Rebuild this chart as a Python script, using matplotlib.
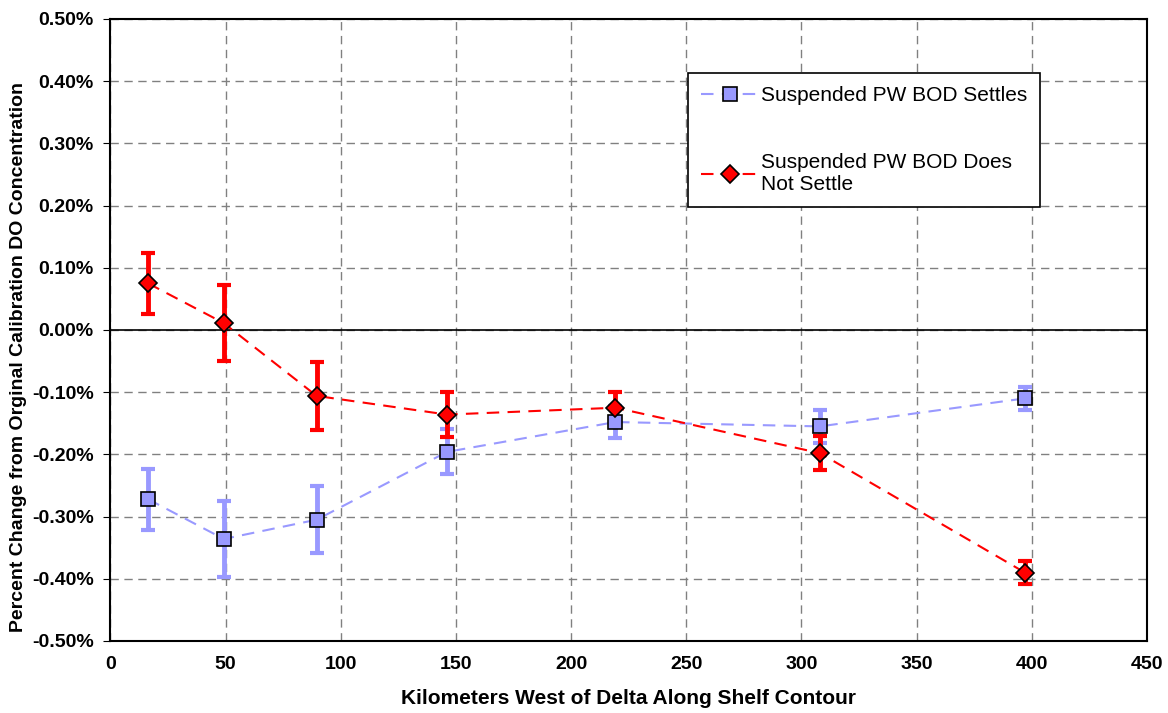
import matplotlib
matplotlib.use("Agg")
import matplotlib.pyplot as plt
from matplotlib.ticker import FuncFormatter, MultipleLocator

plt.rcParams['font.family'] = ['Liberation Sans', 'DejaVu Sans']

# Data (percent change)
km = [16.3, 49.2, 89.5, 146.1, 219.2, 308.0, 397.0]
settles = [-0.272, -0.336, -0.305, -0.196, -0.148, -0.155, -0.110]
settles_err = [0.049, 0.061, 0.054, 0.036, 0.026, 0.027, 0.018]
not_settle = [0.075, 0.011, -0.106, -0.136, -0.125, -0.198, -0.390]
not_settle_err = [0.049, 0.061, 0.055, 0.036, 0.026, 0.027, 0.019]

label_settles = "Suspended PW BOD Settles"
label_not = "Suspended PW BOD Does\nNot Settle"
xlabel = "Kilometers West of Delta Along Shelf Contour"
ylabel = "Percent Change from Orginal Calibration DO Concentration"

blue = "#9999FF"
red = "#FF0000"

fig = plt.figure(figsize=(11.68, 7.13), dpi=100)
ax = fig.add_axes([0.0946, 0.101, 0.8874, 0.8724])

ax.set_xlim(0, 450)
ax.set_ylim(-0.5, 0.5)
ax.xaxis.set_major_locator(MultipleLocator(50))
ax.yaxis.set_major_locator(MultipleLocator(0.1))
ax.yaxis.set_major_formatter(FuncFormatter(lambda v, p: f"{v:.2f}%"))

ax.grid(True, color="#808080", linestyle=(0, (6, 4)), linewidth=1.0)
ax.set_axisbelow(True)
ax.axhline(0, color="black", linewidth=1.2, zorder=1.5)

ax.errorbar(km, settles, yerr=settles_err, fmt='none', ecolor=blue,
            elinewidth=3.5, capsize=5, capthick=3, zorder=2)
ax.errorbar(km, not_settle, yerr=not_settle_err, fmt='none', ecolor=red,
            elinewidth=3.5, capsize=5, capthick=3, zorder=2)

ax.plot(km, settles, color=blue, linestyle=(0, (6, 4)), linewidth=1.5,
        marker='s', markersize=10, markerfacecolor=blue,
        markeredgecolor='black', markeredgewidth=1.2, label=label_settles, zorder=3)
ax.plot(km, not_settle, color=red, linestyle=(0, (6, 4)), linewidth=1.5,
        marker='D', markersize=9.5, markerfacecolor=red,
        markeredgecolor='black', markeredgewidth=1.2, label=label_not, zorder=3)

for s in ax.spines.values():
    s.set_color("black")
    s.set_linewidth(1.5)

ax.tick_params(axis='x', length=0, pad=11, labelsize=14)
ax.tick_params(axis='y', length=5, direction='out', pad=7, labelsize=14)
for lab in ax.get_xticklabels() + ax.get_yticklabels():
    lab.set_fontweight('bold')

ax.set_xlabel(xlabel, fontsize=15, fontweight='bold')
ax.set_ylabel(ylabel, fontsize=14, fontweight='bold')
ax.xaxis.set_label_coords(0.5, -0.077)
ax.yaxis.set_label_coords(-0.081, 0.457)

leg = ax.legend(loc='upper left', bbox_to_anchor=(0.557, 0.913),
                fontsize=15, frameon=True, fancybox=False, shadow=False,
                handlelength=2.8, labelspacing=2.3, borderpad=0.62,
                handletextpad=0.1, borderaxespad=0)
leg.get_frame().set_edgecolor('black')
leg.get_frame().set_linewidth(1.2)
leg.get_frame().set_alpha(1)

fig.savefig("out.png", dpi=100)
